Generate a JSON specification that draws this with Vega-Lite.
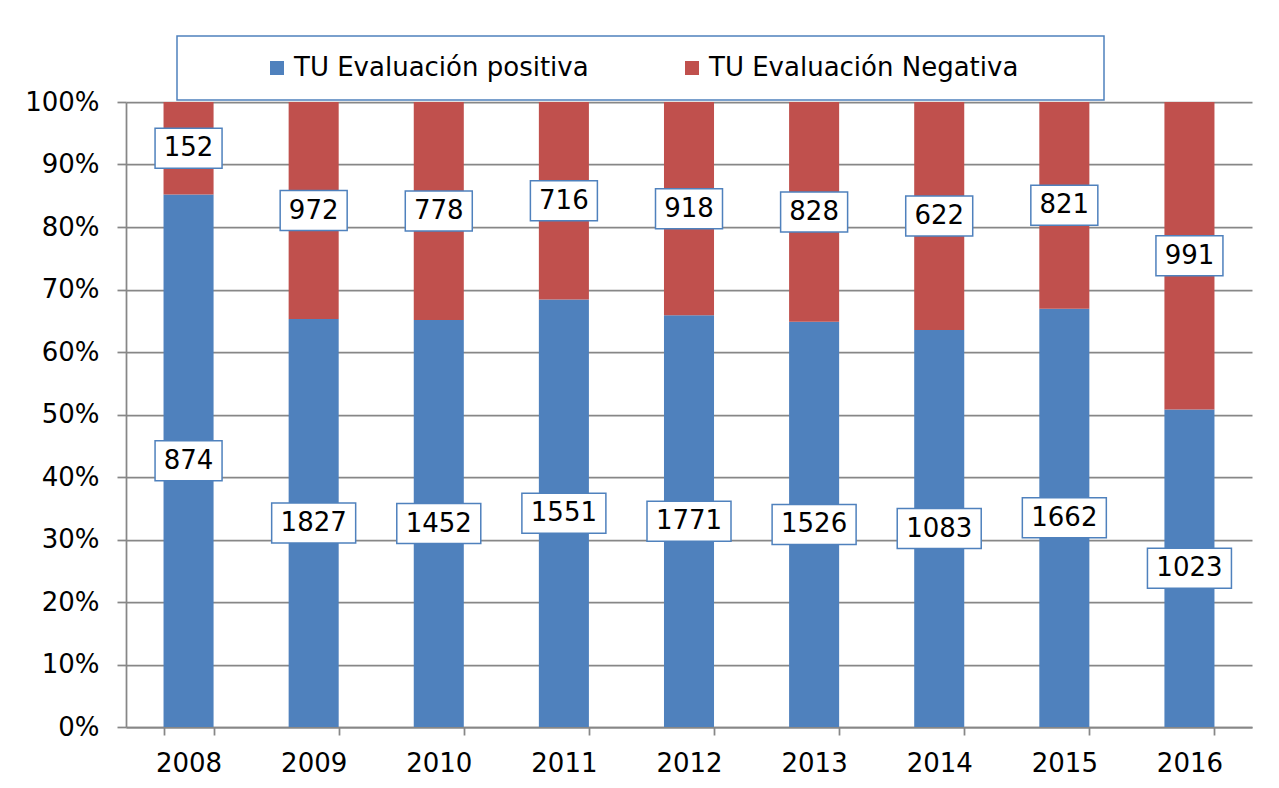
{
  "$schema": "https://vega.github.io/schema/vega-lite/v6.json",
  "width": 1126,
  "height": 625,
  "autosize": {"type": "none"},
  "padding": {"left": 126, "top": 102, "right": 27, "bottom": 61},
  "background": "white",
  "data": {
    "values": [
      {"year": "2008", "series": "TU Evaluación positiva", "n": 874},
      {"year": "2008", "series": "TU Evaluación Negativa", "n": 152},
      {"year": "2009", "series": "TU Evaluación positiva", "n": 1827},
      {"year": "2009", "series": "TU Evaluación Negativa", "n": 972},
      {"year": "2010", "series": "TU Evaluación positiva", "n": 1452},
      {"year": "2010", "series": "TU Evaluación Negativa", "n": 778},
      {"year": "2011", "series": "TU Evaluación positiva", "n": 1551},
      {"year": "2011", "series": "TU Evaluación Negativa", "n": 716},
      {"year": "2012", "series": "TU Evaluación positiva", "n": 1771},
      {"year": "2012", "series": "TU Evaluación Negativa", "n": 918},
      {"year": "2013", "series": "TU Evaluación positiva", "n": 1526},
      {"year": "2013", "series": "TU Evaluación Negativa", "n": 828},
      {"year": "2014", "series": "TU Evaluación positiva", "n": 1083},
      {"year": "2014", "series": "TU Evaluación Negativa", "n": 622},
      {"year": "2015", "series": "TU Evaluación positiva", "n": 1662},
      {"year": "2015", "series": "TU Evaluación Negativa", "n": 821},
      {"year": "2016", "series": "TU Evaluación positiva", "n": 1023},
      {"year": "2016", "series": "TU Evaluación Negativa", "n": 991}
    ]
  },
  "transform": [
    {"stack": "n", "groupby": ["year"], "sort": [{"field": "series", "order": "descending"}], "as": ["y0", "y1"], "offset": "normalize"},
    {"calculate": "(datum.y0 + datum.y1) / 2", "as": "ymid"}
  ],
  "encoding": {
    "x": {
      "field": "year",
      "type": "nominal",
      "title": null,
      "scale": {"paddingInner": 0.6, "paddingOuter": 0.3},
      "axis": {
        "labelAngle": 0,
        "tickBand": "extent",
        "tickSize": 8,
        "tickColor": "#878787",
        "tickWidth": 1.75,
        "domainColor": "#878787",
        "domainWidth": 1.75,
        "grid": false,
        "labelFont": "DejaVu Sans",
        "labelFontSize": 26,
        "labelColor": "#000000",
        "labelPadding": 15
      }
    }
  },
  "layer": [
    {
      "mark": {"type": "bar"},
      "encoding": {
        "y": {
          "field": "y0",
          "type": "quantitative",
          "title": null,
          "scale": {"domain": [0, 1]},
          "axis": {
            "values": [0, 0.1, 0.2, 0.3, 0.4, 0.5, 0.6, 0.7, 0.8, 0.9, 1],
            "format": ".0%",
            "tickSize": 9,
            "tickColor": "#878787",
            "tickWidth": 1.75,
            "domainColor": "#878787",
            "domainWidth": 1.75,
            "grid": true,
            "gridColor": "#878787",
            "gridWidth": 1.75,
            "labelFont": "DejaVu Sans",
            "labelFontSize": 26,
            "labelColor": "#000000",
            "labelPadding": 18
          }
        },
        "y2": {"field": "y1"},
        "color": {
          "field": "series",
          "type": "nominal",
          "scale": {
            "domain": ["TU Evaluación positiva", "TU Evaluación Negativa"],
            "range": ["#4F81BD", "#C0504D"]
          },
          "legend": {
            "orient": "none",
            "legendX": 51,
            "legendY": -66,
            "direction": "horizontal",
            "title": " ",
            "titleOrient": "left",
            "titleFontSize": 1,
            "titlePadding": 68,
            "padding": 19,
            "strokeColor": "#4F81BD",
            "fillColor": "white",
            "symbolType": "square",
            "symbolSize": 196,
            "symbolStrokeWidth": 0,
            "labelOffset": 4,
            "columnPadding": 90,
            "labelFont": "DejaVu Sans",
            "labelFontSize": 26,
            "labelColor": "#000000",
            "labelLimit": 800,
            "labelExpr": "datum.label == 'TU Evaluación Negativa' ? datum.label + '\u00a0\u00a0\u00a0\u00a0\u00a0\u00a0\u00a0\u00a0\u2060' : datum.label",
            "encode": {"legend": {"update": {"strokeWidth": {"value": 1.5}}}}
          }
        }
      }
    },
    {
      "mark": {"type": "point", "filled": true, "fill": "white", "stroke": "#4F81BD", "strokeWidth": 1.5, "opacity": 1},
      "encoding": {
        "y": {"field": "ymid", "type": "quantitative", "title": null},
        "shape": {
          "condition": {"test": "datum.n >= 1000", "value": "M-1,-0.476H1V0.476H-1Z"},
          "value": "M-1,-0.597H1V0.597H-1Z"
        },
        "size": {
          "condition": {"test": "datum.n >= 1000", "value": 7056},
          "value": 4489
        }
      }
    },
    {
      "mark": {"type": "text", "font": "DejaVu Sans", "fontSize": 26, "color": "#000000", "align": "center", "baseline": "middle"},
      "encoding": {
        "y": {"field": "ymid", "type": "quantitative", "title": null},
        "text": {"field": "n", "type": "quantitative", "format": "d"}
      }
    }
  ],
  "config": {
    "view": {"stroke": null}
  }
}
